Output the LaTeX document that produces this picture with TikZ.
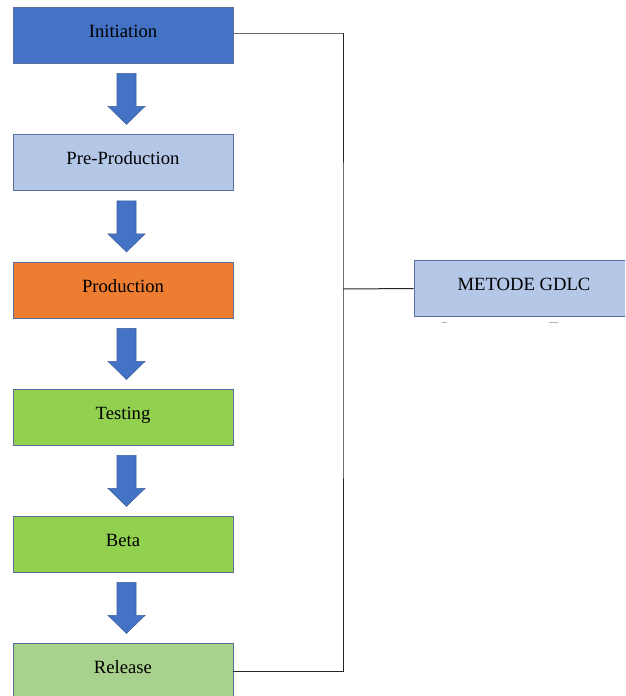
\documentclass[tikz,border=0pt]{standalone}
\usepackage{fontspec}
\setmainfont{Liberation Serif}
\definecolor{initblue}{HTML}{4472C4}
\definecolor{lightblue}{HTML}{B4C7E7}
\definecolor{prodorange}{HTML}{ED7D31}
\definecolor{testgreen}{HTML}{92D050}
\definecolor{relgreen}{HTML}{A9D18E}
\definecolor{boxline}{HTML}{5A6F9C}
\definecolor{arrowline}{HTML}{3A5F9E}
\tikzset{
  phase/.style={draw=boxline, line width=0.6pt, minimum width=165pt, minimum height=42pt,
    text height=10pt, text depth=7pt, font=\rmfamily\fontsize{14}{16}\selectfont},
  link/.style={black!85, line width=0.75pt},
  blockarrow/.style={fill=initblue, draw=arrowline, line width=0.4pt, line join=miter}
}
\begin{document}
\begin{tikzpicture}[x=0.75pt,y=-0.75pt]
\useasboundingbox (0,0) rectangle (625,696);
\clip (0,0) rectangle (625,696);
\node[phase, fill=initblue] (init) at (123,35) {Initiation};
\node[phase, fill=lightblue] (pre) at (123,162.5) {Pre-Production};
\node[phase, fill=prodorange] (prod) at (123,290) {Production};
\node[phase, fill=testgreen] (test) at (123,417) {Testing};
\node[phase, fill=testgreen] (beta) at (123,544) {Beta};
\node[phase, fill=relgreen] (rel) at (123,671) {Release};
\node[phase, fill=lightblue] (gdlc) at (524,288.5) {METODE GDLC};
% block arrows between the phases
\foreach \a in {init,pre,prod,test,beta}
  \draw[blockarrow] (\a.south) ++(-6,10) --++(19,0) --++(0,33) --++(9,0)
    --++(-18.5,18) --++(-18.5,-18) --++(9,0) --cycle;
% connector to the method box
\coordinate (bus) at (343,289);
\coordinate (top) at ([yshift=1.5pt]init.east);
\draw[link, black!60] (top) -- (top -| bus);
\draw[link] (top -| bus) -- (bus) |- (rel.east);
\draw[link] (bus) -- (gdlc.west);
\draw[gray!60, line width=0.6pt] (442,322) -- (447,322);
\draw[gray!60, line width=0.6pt] (549,322) -- (558,322);
\end{tikzpicture}
\end{document}
